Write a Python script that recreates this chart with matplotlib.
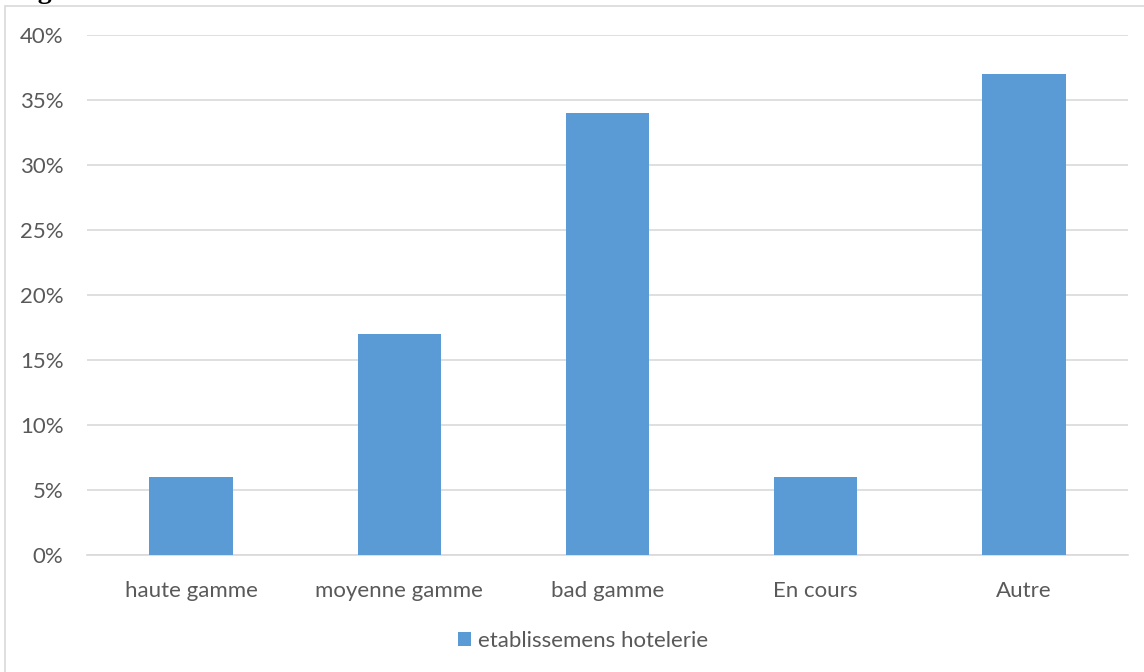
import matplotlib.pyplot as plt
from matplotlib.patches import Rectangle
from matplotlib.ticker import PercentFormatter

plt.rcParams['font.family'] = ['Lato', 'DejaVu Sans']

categories = ['haute gamme', 'moyenne gamme', 'bad gamme', 'En cours', 'Autre']
values = [6, 17, 34, 6, 37]
series_name = 'etablissemens hotelerie'

BAR = '#5b9bd5'
GRID = '#d9d9d9'
TEXT = '#595959'

fig = plt.figure(figsize=(11.44, 6.72), dpi=100)
fig.patch.set_facecolor('white')

# cadre du graphique (coupé à droite et en bas)
fig.patches.append(Rectangle((5 / 1144, -0.1), 1.2, (672 - 6) / 672 + 0.1,
                             transform=fig.transFigure, fill=False,
                             edgecolor=GRID, linewidth=1.2))
# reste du titre coupé en haut, comme dans l'original
fig.text(14 / 1144, 1.012, 'Fig', fontsize=20, fontweight='bold',
         family='Liberation Serif', color='black', va='center', ha='left')

ax = fig.add_axes([87 / 1144, 117 / 672, 1041 / 1144, 520 / 672])
x = range(len(categories))
ax.bar(x, values, width=0.4, color=BAR, label=series_name, zorder=3)

ax.set_xlim(-0.5, len(categories) - 0.5)
ax.set_ylim(0, 40)
ax.set_yticks(range(0, 41, 5))
ax.yaxis.set_major_formatter(PercentFormatter(decimals=0))
ax.set_xticks(list(x))
ax.set_xticklabels(categories)
ax.grid(axis='y', color=GRID, linewidth=1.2, zorder=0)
for s in ['top', 'right', 'left']:
    ax.spines[s].set_visible(False)
ax.spines['bottom'].set_color(GRID)
ax.spines['bottom'].set_linewidth(1.2)
ax.tick_params(axis='both', length=0, labelsize=16, colors=TEXT)
ax.tick_params(axis='y', pad=17)
ax.tick_params(axis='x', pad=19)

leg = fig.legend(loc='center', bbox_to_anchor=(583 / 1144, 1 - 641 / 672),
                 frameon=False, fontsize=16, handlelength=0.6, handleheight=0.6,
                 handletextpad=0.3)
for t in leg.get_texts():
    t.set_color(TEXT)

fig.savefig('out.png', dpi=100, facecolor='white')
